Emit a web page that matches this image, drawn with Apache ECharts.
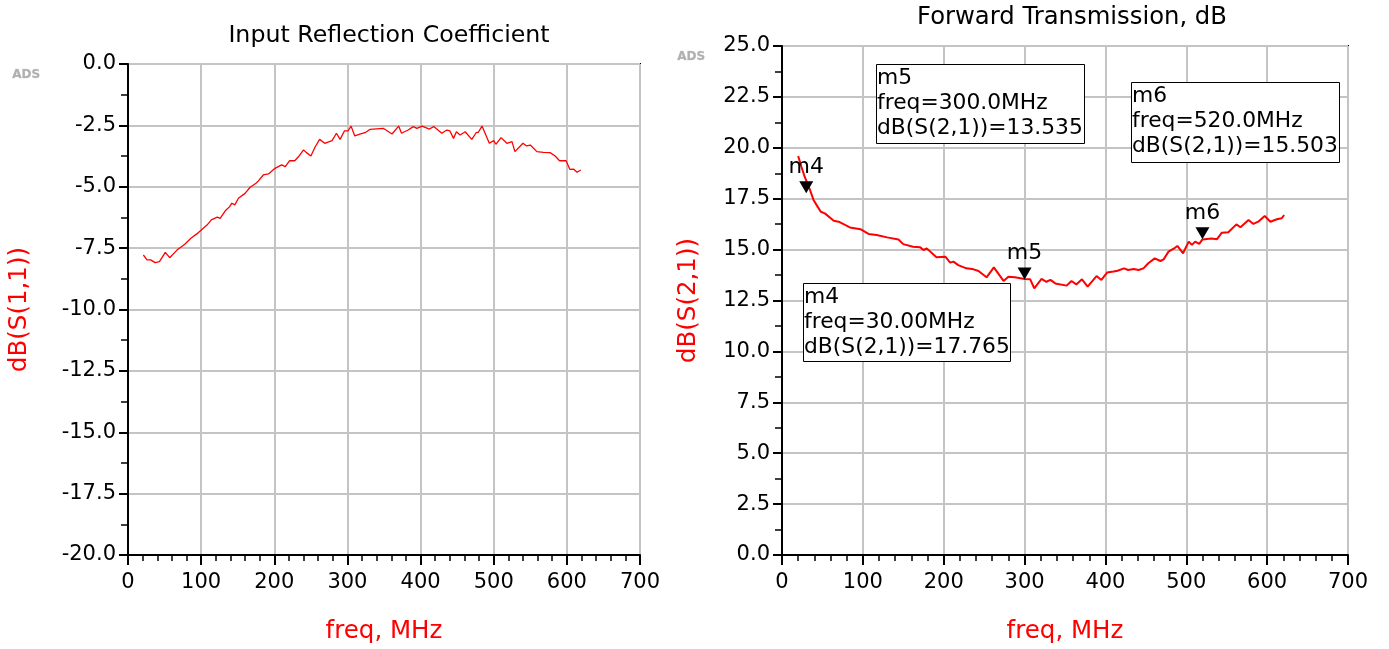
<!DOCTYPE html>
<html><head><meta charset="utf-8">
<script src="https://cdn.jsdelivr.net/npm/echarts@6/dist/echarts.min.js"></script>
<style>html,body{margin:0;padding:0;background:#fff}#c{width:1389px;height:649px}</style>
</head><body><div id="c"></div>
<script>
// Left chart: dB(S(1,1)) vs freq (MHz)
const s11Freq = [21,26,31,37,43,51,57,67,73,78,86,94,108,114,122,126,133,139,142,146,151,160,167,175,178,185,192,201,210,215,221,228,233,240,244,250,256,262,269,279,285,290,296,301,305,310,317,324,331,349,361,370,374,383,390,395,402,412,418,429,436,440,445,449,454,461,470,476,479,484,494,500,503,510,518,525,529,540,545,550,559,568,577,584,590,599,604,609,614,619];
const s11Val = [-7.78,-7.98,-7.98,-8.09,-8.05,-7.67,-7.89,-7.58,-7.44,-7.33,-7.10,-6.92,-6.56,-6.35,-6.24,-6.29,-5.98,-5.81,-5.67,-5.74,-5.47,-5.27,-5.02,-4.86,-4.77,-4.52,-4.48,-4.25,-4.11,-4.18,-3.94,-3.94,-3.78,-3.50,-3.61,-3.75,-3.37,-3.07,-3.23,-3.12,-2.82,-3.07,-2.72,-2.72,-2.53,-2.93,-2.86,-2.80,-2.66,-2.62,-2.85,-2.53,-2.82,-2.69,-2.55,-2.62,-2.53,-2.65,-2.55,-2.82,-2.69,-2.72,-3.03,-2.76,-2.89,-2.76,-3.07,-2.80,-2.78,-2.53,-3.23,-3.12,-3.27,-3.00,-3.23,-3.16,-3.57,-3.23,-3.34,-3.30,-3.57,-3.60,-3.61,-3.75,-3.94,-3.94,-4.29,-4.28,-4.41,-4.32];
// Right chart: dB(S(2,1)) vs freq (MHz)
const s21Freq = [20,24,28,34,39,44,48,53,64,70,84,97,107,117,130,144,150,162,171,175,179,191,202,208,212,218,228,237,243,253,262,274,280,288,300,307,312,321,327,332,338,352,358,364,371,378,389,395,402,410,415,423,428,435,441,447,453,461,468,472,478,486,489,496,503,507,511,516,520,531,538,544,552,562,567,577,583,589,597,604,612,618,621];
const s21Val = [19.60,19.07,18.58,18.00,17.44,17.11,16.86,16.78,16.42,16.37,16.09,16.00,15.77,15.72,15.60,15.50,15.27,15.14,15.11,14.98,15.06,14.62,14.65,14.36,14.41,14.24,14.08,14.03,13.95,13.64,14.13,13.46,13.67,13.64,13.56,13.54,13.10,13.56,13.42,13.51,13.34,13.23,13.46,13.29,13.54,13.18,13.70,13.51,13.87,13.92,13.96,14.08,14.00,14.05,14.00,14.08,14.33,14.57,14.44,14.52,14.90,15.09,15.18,14.82,15.39,15.23,15.39,15.28,15.50,15.55,15.51,15.83,15.85,16.24,16.10,16.45,16.26,16.37,16.65,16.37,16.49,16.54,16.70];
// Markers on the right chart
const markerNames = ['m4','m5','m6'];
const markerFreqs = [30, 300, 520];
const markerVals = [17.765, 13.535, 15.503];
const markerFreqText = ['30.00MHz','300.0MHz','520.0MHz'];
const titles = ['Input Reflection Coefficient','Forward Transmission, dB'];
const yNames = ['dB(S(1,1))','dB(S(2,1))'];
const xName = 'freq, MHz';

const FONT = '"DejaVu Sans", Verdana, sans-serif';
const chart = echarts.init(document.getElementById('c'), null, {renderer:'canvas'});

function xAxisCfg(gi){
  return {gridIndex:gi,type:'value',min:0,max:700,interval:100,
    name:xName,nameLocation:'middle',nameGap:64,
    nameTextStyle:{color:'#ff0000',fontSize:24.5,fontFamily:FONT},
    axisLine:{show:true,onZero:false,lineStyle:{color:'#000',width:2}},
    axisTick:{show:true,inside:false,length:10,lineStyle:{color:'#000',width:2}},
    minorTick:{show:true,splitNumber:5,length:6,lineStyle:{color:'#000',width:1.5}},
    axisLabel:{color:'#000',fontSize:21,fontFamily:FONT,margin:17},
    splitLine:{show:true,lineStyle:{color:'#c4c4c4',width:2}}};
}
function yAxisCfg(gi,min,max){
  return {gridIndex:gi,type:'value',min:min,max:max,interval:2.5,
    name:yNames[gi],nameLocation:'middle',nameGap:gi===0?96:81,nameRotate:90,
    nameTextStyle:{color:'#ff0000',fontSize:24.5,fontFamily:FONT},
    axisLine:{show:true,onZero:false,lineStyle:{color:'#000',width:2}},
    axisTick:{show:true,inside:false,length:9,lineStyle:{color:'#000',width:2}},
    minorTick:{show:true,splitNumber:2,length:7,lineStyle:{color:'#000',width:1.5}},
    axisLabel:{color:'#000',fontSize:21,fontFamily:FONT,margin:12,
      formatter:v=>v.toFixed(1)},
    splitLine:{show:true,lineStyle:{color:'#c4c4c4',width:2}}};
}

function boxText(i){
  return markerNames[i]+'\nfreq='+markerFreqText[i]+'\ndB(S(2,1))='+markerVals[i].toFixed(3);
}
const boxes = [
  {i:0,x:803,y:283,w:207,h:78},
  {i:1,x:876,y:64,w:208,h:79},
  {i:2,x:1131,y:82,w:208,h:80}
];
const graphics = [];
boxes.forEach(b=>{
  graphics.push({type:'rect',left:b.x,top:b.y,shape:{width:b.w,height:b.h},
    style:{fill:'#fff',stroke:'#000',lineWidth:1},z:100});
  graphics.push({type:'text',left:b.x+1,top:b.y+2,
    style:{text:boxText(b.i),fill:'#000',font:'21.8px '+FONT,lineHeight:25},z:101});
});
graphics.push({type:'text',left:12,top:69,style:{text:'ADS',fill:'#b0b0b0',font:'bold 12px '+FONT,stroke:'#d8d8d8',lineWidth:0.5}});
graphics.push({type:'text',left:677,top:51,style:{text:'ADS',fill:'#b0b0b0',font:'bold 12px '+FONT,stroke:'#d8d8d8',lineWidth:0.5}});

const option = {
  backgroundColor:'#fff',
  animation:false,
  title:[
    {text:titles[0],left:384,top:19,textAlign:'center',textStyle:{fontSize:23.7,fontWeight:'normal',color:'#000',fontFamily:FONT}},
    {text:titles[1],left:1067,top:1,textAlign:'center',textStyle:{fontSize:24.3,fontWeight:'normal',color:'#000',fontFamily:FONT}}
  ],
  grid:[
    {left:128,top:64,width:512,height:491,show:true,borderColor:'#000',borderWidth:2,backgroundColor:'transparent'},
    {left:782,top:46,width:566,height:509,show:true,borderColor:'#000',borderWidth:2,backgroundColor:'transparent'}
  ],
  xAxis:[xAxisCfg(0),xAxisCfg(1)],
  yAxis:[yAxisCfg(0,-20,0),yAxisCfg(1,0,25)],
  series:[
    {type:'line',xAxisIndex:0,yAxisIndex:0,data:s11Freq.map((f,k)=>[f,s11Val[k]]),
      showSymbol:false,lineStyle:{color:'#ff0000',width:1.3},itemStyle:{color:'#ff0000'}},
    {type:'line',xAxisIndex:1,yAxisIndex:1,data:s21Freq.map((f,k)=>[f,s21Val[k]]),
      showSymbol:false,lineStyle:{color:'#ff0000',width:2},itemStyle:{color:'#ff0000'},
      markPoint:{symbol:'triangle',symbolRotate:180,symbolSize:[14,12],symbolOffset:[0,-6],
        itemStyle:{color:'#000'},
        label:{show:true,position:'top',distance:3,formatter:'{b}',color:'#000',fontSize:22,fontFamily:FONT},
        data:markerNames.map((n,k)=>({name:n,coord:[markerFreqs[k],markerVals[k]]}))}}
  ],
  graphic:graphics
};
chart.setOption(option);
</script></body></html>
